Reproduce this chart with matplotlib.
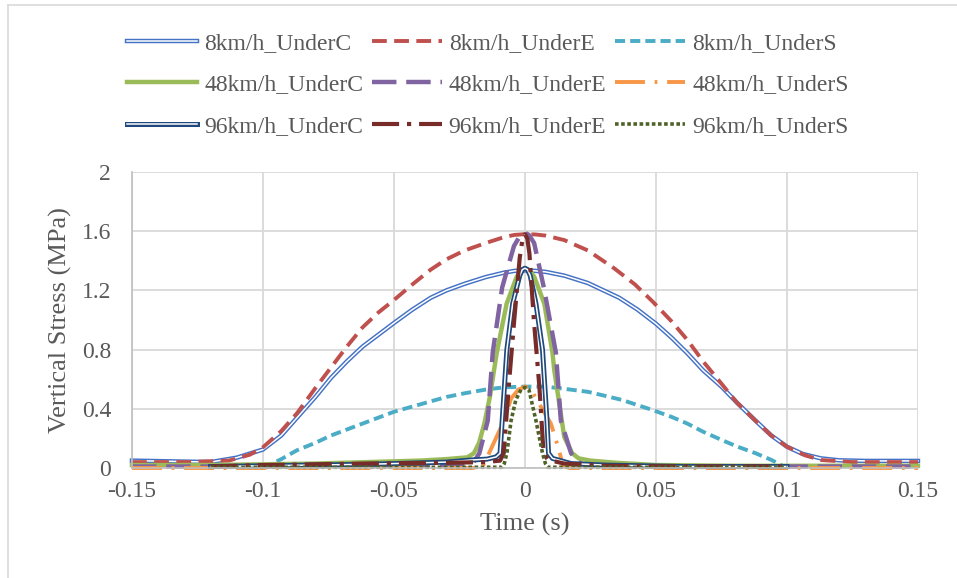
import matplotlib
matplotlib.use("Agg")
import matplotlib.pyplot as plt
import matplotlib.patheffects as pe
from matplotlib.lines import Line2D

plt.rcParams['font.family'] = ['Liberation Serif', 'DejaVu Serif']
TXT = '#595959'

# ---- vertical stress histories (time in s, stress in MPa) ----
t_8_c = [-0.15, -0.135, -0.12, -0.11, -0.10, -0.093, -0.087, -0.08, -0.074, -0.068,
         -0.062, -0.056, -0.05, -0.043, -0.036, -0.03, -0.023, -0.015, -0.008, -0.004,
         0.0, 0.004, 0.008, 0.015, 0.024, 0.030, 0.036, 0.043, 0.05, 0.056, 0.062,
         0.068, 0.075, 0.081, 0.088, 0.094, 0.10, 0.106, 0.113, 0.12, 0.13, 0.15]
s_8_c = [0.050, 0.045, 0.040, 0.070, 0.125, 0.22, 0.34, 0.48, 0.61, 0.72,
         0.82, 0.90, 0.98, 1.07, 1.15, 1.20, 1.245, 1.29, 1.32, 1.332,
         1.335, 1.332, 1.325, 1.30, 1.25, 1.20, 1.15, 1.07, 0.975, 0.88, 0.775,
         0.66, 0.55, 0.44, 0.32, 0.22, 0.144, 0.095, 0.065, 0.052, 0.048, 0.048]

t_8_e = [-0.15, -0.13, -0.113, -0.105, -0.10, -0.093, -0.087, -0.08, -0.074, -0.068,
         -0.062, -0.056, -0.05, -0.043, -0.036, -0.03, -0.023, -0.015, -0.008, -0.004,
         0.0, 0.004, 0.008, 0.015, 0.024, 0.034, 0.042, 0.049, 0.056, 0.062, 0.068,
         0.075, 0.081, 0.088, 0.094, 0.10, 0.107, 0.113, 0.125, 0.15]
s_8_e = [0.040, 0.040, 0.050, 0.09, 0.14, 0.25, 0.37, 0.54, 0.68, 0.82,
         0.95, 1.05, 1.135, 1.24, 1.34, 1.41, 1.47, 1.52, 1.56, 1.575,
         1.58, 1.578, 1.57, 1.54, 1.47, 1.35, 1.24, 1.12, 0.99, 0.865, 0.72,
         0.57, 0.44, 0.32, 0.22, 0.144, 0.085, 0.054, 0.040, 0.040]

t_8_s = [-0.10, -0.093, -0.087, -0.08, -0.074, -0.068, -0.062, -0.056, -0.05, -0.043,
         -0.036, -0.03, -0.023, -0.015, -0.008, 0.0, 0.008, 0.015, 0.024, 0.030,
         0.037, 0.043, 0.049, 0.056, 0.062, 0.068, 0.075, 0.081, 0.088, 0.094, 0.10]
s_8_s = [0.0, 0.06, 0.12, 0.17, 0.22, 0.26, 0.30, 0.34, 0.38, 0.415,
         0.45, 0.48, 0.505, 0.53, 0.545, 0.55, 0.55, 0.535, 0.515, 0.49,
         0.46, 0.425, 0.39, 0.345, 0.30, 0.245, 0.19, 0.145, 0.10, 0.055, 0.0]

t_48_c = [-0.15, -0.12, -0.10, -0.08, -0.06, -0.04, -0.03, -0.022, -0.0195, -0.0175,
          -0.0155, -0.0134, -0.0108, -0.007, -0.0032, -0.0016, 0.0, 0.0018, 0.0036,
          0.0074, 0.0105, 0.0112, 0.015, 0.018, 0.0205, 0.025, 0.035, 0.05, 0.08,
          0.10, 0.12, 0.15]
s_48_c = [0.02, 0.02, 0.025, 0.03, 0.04, 0.05, 0.06, 0.072, 0.10, 0.17,
          0.30, 0.48, 0.775, 1.11, 1.29, 1.335, 1.35, 1.335, 1.29,
          1.11, 0.78, 0.66, 0.21, 0.10, 0.065, 0.05, 0.035, 0.02, 0.015,
          0.015, 0.015, 0.015]

t_48_e = [-0.15, -0.10, -0.05, -0.03, -0.022, -0.0195, -0.0174, -0.0142, -0.0123,
          -0.0087, -0.0042, -0.002, 0.0, 0.0015, 0.0035, 0.0072, 0.0118, 0.0137,
          0.0176, 0.020, 0.023, 0.03, 0.05, 0.10, 0.15]
s_48_e = [0.01, 0.01, 0.015, 0.02, 0.03, 0.04, 0.10, 0.32, 0.78,
          1.22, 1.50, 1.565, 1.59, 1.575, 1.52, 1.22, 0.78, 0.32,
          0.10, 0.04, 0.02, 0.015, 0.01, 0.01, 0.01]

t_48_s = [-0.15, -0.05, -0.0165, -0.0137, -0.008, -0.0053, -0.0025, 0.0,
          0.002, 0.0042, 0.0099, 0.0125, 0.0145, 0.017, 0.05, 0.15]
s_48_s = [0.0, 0.0, 0.0, 0.10, 0.32, 0.47, 0.53, 0.55,
          0.54, 0.47, 0.30, 0.15, 0.02, 0.0, 0.0, 0.0]

t_96_c = [-0.12, -0.10, -0.06, -0.03, -0.0206, -0.0145, -0.011, -0.0095, -0.0087,
          -0.0069, -0.0047, -0.002, -0.001, 0.0, 0.001, 0.002, 0.0042, 0.0067,
          0.0084, 0.009, 0.0105, 0.0176, 0.03, 0.06, 0.10]
s_96_c = [0.01, 0.015, 0.025, 0.04, 0.054, 0.06, 0.075, 0.10, 0.32,
          0.80, 1.11, 1.30, 1.34, 1.35, 1.34, 1.30, 1.11, 0.80,
          0.32, 0.10, 0.065, 0.03, 0.02, 0.01, 0.01]

t_96_e = [-0.12, -0.10, -0.06, -0.03, -0.015, -0.0095, -0.0081, -0.0062, -0.0041,
          -0.002, -0.001, 0.0, 0.0009, 0.0017, 0.0034, 0.0055, 0.0071, 0.0086,
          0.010, 0.015, 0.03, 0.06, 0.10]
s_96_e = [0.01, 0.02, 0.03, 0.035, 0.04, 0.05, 0.10, 0.55, 1.0,
          1.42, 1.54, 1.58, 1.55, 1.45, 1.0, 0.55, 0.10, 0.06,
          0.05, 0.03, 0.015, 0.01, 0.01]

t_96_s = [-0.12, -0.10, -0.05, -0.02, -0.0088, -0.0079, -0.0069, -0.0053, -0.0035,
          -0.0015, 0.0, 0.0015, 0.0042, 0.0067, 0.0078, 0.0088, 0.02, 0.05, 0.10]
s_96_s = [0.005, 0.005, 0.005, 0.005, 0.005, 0.03, 0.10, 0.32, 0.46,
          0.53, 0.545, 0.53, 0.32, 0.10, 0.03, 0.005, 0.005, 0.005, 0.005]

x_ticks = [-0.15, -0.1, -0.05, 0, 0.05, 0.1, 0.15]
x_tick_labels = ['-0.15', '-0.1', '-0.05', '0', '0.05', '0.1', '0.15']
y_ticks = [0, 0.4, 0.8, 1.2, 1.6, 2]
y_tick_labels = ['0', '0.4', '0.8', '1.2', '1.6', '2']

fig = plt.figure(figsize=(9.57, 5.78), dpi=100)
ax = fig.add_axes([0.1379, 0.1903, 0.8213, 0.5121])


def double_line(t, s, color, label, outer=3.2):
    ax.plot(t, s, color='white', lw=1.1, label=label, clip_on=False,
            path_effects=[pe.Stroke(linewidth=outer, foreground=color), pe.Normal()])


double_line(t_8_c, s_8_c, '#4472C4', '8km/h_UnderC')
ax.plot(t_8_e, s_8_e, color='#C0504D', lw=2.8, dashes=(3.8, 1.9),
        label='8km/h_UnderE', clip_on=False)
ax.plot(t_8_s, s_8_s, color='#4BACC6', lw=2.8, dashes=(2.6, 1.3),
        label='8km/h_UnderS', clip_on=False)
ax.plot(t_48_c, s_48_c, color='#9BBB59', lw=3.2, label='48km/h_UnderC', clip_on=False)
ax.plot(t_48_e, s_48_e, color='#8064A2', lw=3.2, dashes=(5.5, 2.2),
        label='48km/h_UnderE', clip_on=False)
ax.plot(t_48_s, s_48_s, color='#F79646', lw=2.8, dashes=(7.7, 2.5, 0.7, 2.5),
        label='48km/h_UnderS', clip_on=False)
double_line(t_96_c, s_96_c, '#1F497D', '96km/h_UnderC', outer=3.6)
ax.plot(t_96_e, s_96_e, color='#772C2A', lw=3.0, dashes=(6.5, 1.9, 1.0, 1.9),
        label='96km/h_UnderE', clip_on=False)
ax.plot(t_96_s, s_96_s, color='#4F6228', lw=2.6, dashes=(1.0, 0.7),
        label='96km/h_UnderS', clip_on=False)

ax.set_xlim(-0.15, 0.15)
ax.set_ylim(0, 2)
ax.set_xticks(x_ticks)
ax.set_xticklabels(x_tick_labels)
ax.set_yticks(y_ticks)
ax.set_yticklabels(y_tick_labels)
ax.tick_params(length=0, labelsize=17, labelcolor=TXT)
ax.tick_params(axis='x', pad=9)
ax.tick_params(axis='y', pad=15)
ax.grid(True, color='#D9D9D9', lw=1.3)
ax.set_axisbelow(True)
for side in ['top', 'right']:
    ax.spines[side].set_visible(False)
for side in ['left', 'bottom']:
    ax.spines[side].set_color('#BFBFBF')
    ax.spines[side].set_linewidth(1.2)

ax.set_xlabel('Time (s)', fontsize=19, color=TXT, va='center')
ax.xaxis.set_label_coords(0.5, -0.192)
ax.set_ylabel('Vertical Stress (MPa)', fontsize=19, color=TXT, va='center', ha='center')
ax.yaxis.set_label_coords(-0.0905, 0.5)

# legend fills column by column, so order handles to read across rows
handles, labels = ax.get_legend_handles_labels()
order = [0, 3, 6, 1, 4, 7, 2, 5, 8]
fig.legend([handles[i] for i in order], [labels[i] for i in order],
           loc='upper left', bbox_to_anchor=(0.133, 0.944), ncol=3, frameon=False,
           fontsize=17, labelcolor=TXT, handlelength=2.95, handletextpad=0.3,
           columnspacing=0.38, labelspacing=0.85, borderpad=0, borderaxespad=0)

# chart area border
fig.add_artist(Line2D([8 / 957, 8 / 957], [0, 1 - 5 / 578], color='#D9D9D9', lw=1.2,
                      transform=fig.transFigure))
fig.add_artist(Line2D([8 / 957, 1], [1 - 5 / 578, 1 - 5 / 578], color='#D9D9D9', lw=1.2,
                      transform=fig.transFigure))

fig.savefig('out.png', dpi=100)
